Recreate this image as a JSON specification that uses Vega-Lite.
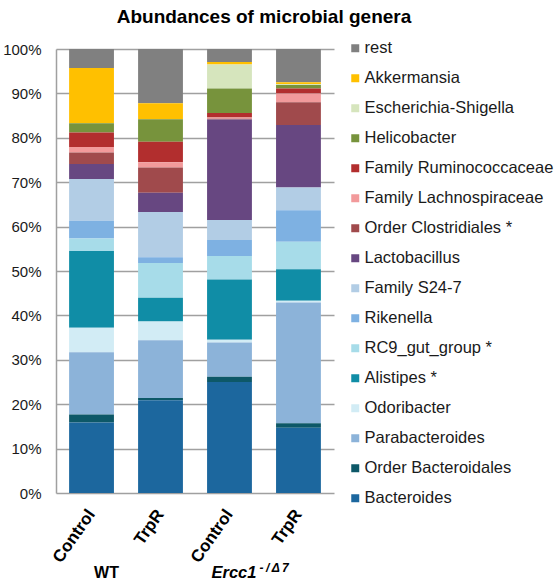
{
  "$schema": "https://vega.github.io/schema/vega-lite/v6.json",
  "autosize": "none",
  "padding": {"left": 56, "top": 49, "right": 222, "bottom": 89},
  "width": 278,
  "height": 444,
  "background": "white",
  "config": {
    "font": "Liberation Sans",
    "view": {"stroke": null}
  },
  "title": {
    "text": "Abundances of microbial genera",
    "fontSize": 19,
    "fontWeight": "bold",
    "color": "#000000",
    "anchor": "middle",
    "frame": "group",
    "dx": 69,
    "offset": 13
  },
  "datasets": {
    "abund": [
      {"sample": "WT Control", "genus": "rest", "value": 4.3},
      {"sample": "WT Control", "genus": "Akkermansia", "value": 12.4},
      {"sample": "WT Control", "genus": "Escherichia-Shigella", "value": 0},
      {"sample": "WT Control", "genus": "Helicobacter", "value": 2.1},
      {"sample": "WT Control", "genus": "Family Ruminococcaceae", "value": 3.3},
      {"sample": "WT Control", "genus": "Family Lachnospiraceae", "value": 1.2},
      {"sample": "WT Control", "genus": "Order Clostridiales", "value": 2.6},
      {"sample": "WT Control", "genus": "Lactobacillus", "value": 3.4},
      {"sample": "WT Control", "genus": "Family S24-7", "value": 9.4},
      {"sample": "WT Control", "genus": "Rikenella", "value": 4.0},
      {"sample": "WT Control", "genus": "RC9_gut_group", "value": 2.8},
      {"sample": "WT Control", "genus": "Alistipes", "value": 17.3},
      {"sample": "WT Control", "genus": "Odoribacter", "value": 5.5},
      {"sample": "WT Control", "genus": "Parabacteroides", "value": 14.0},
      {"sample": "WT Control", "genus": "Order Bacteroidales", "value": 1.8},
      {"sample": "WT Control", "genus": "Bacteroides", "value": 15.9},

      {"sample": "WT TrpR", "genus": "rest", "value": 12.2},
      {"sample": "WT TrpR", "genus": "Akkermansia", "value": 3.6},
      {"sample": "WT TrpR", "genus": "Escherichia-Shigella", "value": 0},
      {"sample": "WT TrpR", "genus": "Helicobacter", "value": 5.1},
      {"sample": "WT TrpR", "genus": "Family Ruminococcaceae", "value": 4.6},
      {"sample": "WT TrpR", "genus": "Family Lachnospiraceae", "value": 1.2},
      {"sample": "WT TrpR", "genus": "Order Clostridiales", "value": 5.7},
      {"sample": "WT TrpR", "genus": "Lactobacillus", "value": 4.3},
      {"sample": "WT TrpR", "genus": "Family S24-7", "value": 10.2},
      {"sample": "WT TrpR", "genus": "Rikenella", "value": 1.3},
      {"sample": "WT TrpR", "genus": "RC9_gut_group", "value": 7.8},
      {"sample": "WT TrpR", "genus": "Alistipes", "value": 5.4},
      {"sample": "WT TrpR", "genus": "Odoribacter", "value": 4.2},
      {"sample": "WT TrpR", "genus": "Parabacteroides", "value": 13.0},
      {"sample": "WT TrpR", "genus": "Order Bacteroidales", "value": 0.5},
      {"sample": "WT TrpR", "genus": "Bacteroides", "value": 20.9},

      {"sample": "Ercc1 Control", "genus": "rest", "value": 2.9},
      {"sample": "Ercc1 Control", "genus": "Akkermansia", "value": 0.6},
      {"sample": "Ercc1 Control", "genus": "Escherichia-Shigella", "value": 5.4},
      {"sample": "Ercc1 Control", "genus": "Helicobacter", "value": 5.5},
      {"sample": "Ercc1 Control", "genus": "Family Ruminococcaceae", "value": 1.0},
      {"sample": "Ercc1 Control", "genus": "Family Lachnospiraceae", "value": 0.3},
      {"sample": "Ercc1 Control", "genus": "Order Clostridiales", "value": 0.2},
      {"sample": "Ercc1 Control", "genus": "Lactobacillus", "value": 22.6},
      {"sample": "Ercc1 Control", "genus": "Family S24-7", "value": 4.5},
      {"sample": "Ercc1 Control", "genus": "Rikenella", "value": 3.6},
      {"sample": "Ercc1 Control", "genus": "RC9_gut_group", "value": 5.3},
      {"sample": "Ercc1 Control", "genus": "Alistipes", "value": 13.6},
      {"sample": "Ercc1 Control", "genus": "Odoribacter", "value": 0.6},
      {"sample": "Ercc1 Control", "genus": "Parabacteroides", "value": 7.7},
      {"sample": "Ercc1 Control", "genus": "Order Bacteroidales", "value": 1.2},
      {"sample": "Ercc1 Control", "genus": "Bacteroides", "value": 25.0},

      {"sample": "Ercc1 TrpR", "genus": "rest", "value": 7.5},
      {"sample": "Ercc1 TrpR", "genus": "Akkermansia", "value": 0.4},
      {"sample": "Ercc1 TrpR", "genus": "Escherichia-Shigella", "value": 0.2},
      {"sample": "Ercc1 TrpR", "genus": "Helicobacter", "value": 0.8},
      {"sample": "Ercc1 TrpR", "genus": "Family Ruminococcaceae", "value": 1.1},
      {"sample": "Ercc1 TrpR", "genus": "Family Lachnospiraceae", "value": 2.0},
      {"sample": "Ercc1 TrpR", "genus": "Order Clostridiales", "value": 5.1},
      {"sample": "Ercc1 TrpR", "genus": "Lactobacillus", "value": 14.1},
      {"sample": "Ercc1 TrpR", "genus": "Family S24-7", "value": 5.1},
      {"sample": "Ercc1 TrpR", "genus": "Rikenella", "value": 7.1},
      {"sample": "Ercc1 TrpR", "genus": "RC9_gut_group", "value": 6.2},
      {"sample": "Ercc1 TrpR", "genus": "Alistipes", "value": 7.1},
      {"sample": "Ercc1 TrpR", "genus": "Odoribacter", "value": 0.4},
      {"sample": "Ercc1 TrpR", "genus": "Parabacteroides", "value": 27.2},
      {"sample": "Ercc1 TrpR", "genus": "Order Bacteroidales", "value": 1.0},
      {"sample": "Ercc1 TrpR", "genus": "Bacteroides", "value": 14.7}
    ]
  },
  "layer": [
    {
      "data": {"name": "abund"},
      "transform": [
        {"window": [{"op": "row_number", "as": "rank"}], "groupby": ["sample"]}
      ],
      "mark": {"type": "bar"},
      "encoding": {
        "x": {
          "field": "sample",
          "type": "nominal",
          "sort": null,
          "scale": {"domain": ["WT Control", "WT TrpR", "Ercc1 Control", "Ercc1 TrpR"], "paddingInner": 0.35, "paddingOuter": 0.19},
          "axis": {
            "title": null,
            "labelExpr": "split(datum.value, ' ')[1]",
            "labelAngle": -55,
            "labelFontSize": 17,
            "labelFontWeight": "bold",
            "labelColor": "#000000",
            "labelPadding": 18,
            "ticks": false,
            "domain": false
          }
        },
        "y": {
          "field": "value",
          "type": "quantitative",
          "stack": "zero",
          "scale": {"domain": [0, 100], "nice": false},
          "axis": {
            "title": null,
            "values": [0, 10, 20, 30, 40, 50, 60, 70, 80, 90, 100],
            "labelExpr": "datum.value + '%'",
            "labelFontSize": 15,
            "labelColor": "#1a1a1a",
            "labelPadding": 15,
            "ticks": false,
            "grid": true,
            "gridColor": "#a0a0a0",
            "gridWidth": 1.5,
            "domain": true,
            "domainColor": "#a0a0a0",
            "domainWidth": 1.5
          }
        },
        "order": {"field": "rank", "type": "quantitative", "sort": "descending"},
        "color": {
          "field": "genus",
          "type": "nominal",
          "sort": ["rest", "Akkermansia", "Escherichia-Shigella", "Helicobacter", "Family Ruminococcaceae", "Family Lachnospiraceae", "Order Clostridiales", "Lactobacillus", "Family S24-7", "Rikenella", "RC9_gut_group", "Alistipes", "Odoribacter", "Parabacteroides", "Order Bacteroidales", "Bacteroides"],
          "scale": {
            "domain": ["rest", "Akkermansia", "Escherichia-Shigella", "Helicobacter", "Family Ruminococcaceae", "Family Lachnospiraceae", "Order Clostridiales", "Lactobacillus", "Family S24-7", "Rikenella", "RC9_gut_group", "Alistipes", "Odoribacter", "Parabacteroides", "Order Bacteroidales", "Bacteroides"],
            "range": ["#808080", "#ffc000", "#d6e5bd", "#77933c", "#b22e2e", "#f29a9b", "#a04a4c", "#674781", "#b2cde5", "#7eb1e2", "#a7dce9", "#108da6", "#d2ecf5", "#8cb3d9", "#0d5868", "#1c679e"]
          },
          "legend": {
            "title": null,
            "orient": "none",
            "legendX": 291,
            "legendY": -9,
            "symbolType": "square",
            "symbolSize": 64,
            "symbolStrokeWidth": 0,
            "labelFontSize": 16.5,
            "labelColor": "#1a1a1a",
            "labelOffset": 1,
            "labelLimit": 300,
            "rowPadding": 13,
            "labelExpr": "(datum.value == 'Order Clostridiales' || datum.value == 'RC9_gut_group' || datum.value == 'Alistipes') ? datum.value + ' *' : datum.value"
          }
        }
      }
    },
    {
      "data": {"values": [{"sample": "WT Control", "group": "WT"}]},
      "mark": {"type": "text", "fontSize": 16, "fontWeight": "bold", "color": "#000000", "align": "center", "baseline": "middle", "dx": 15},
      "encoding": {
        "x": {"field": "sample", "type": "nominal", "sort": null, "scale": {"domain": ["WT Control", "WT TrpR", "Ercc1 Control", "Ercc1 TrpR"]}},
        "y": {"datum": -18.0, "type": "quantitative", "scale": {"domain": [0, 100], "nice": false}},
        "text": {"field": "group"}
      }
    },
    {
      "data": {"values": [{"sample": "Ercc1 Control", "group": "Ercc1"}]},
      "mark": {"type": "text", "fontSize": 16.5, "fontWeight": "bold", "fontStyle": "italic", "color": "#000000", "align": "left", "baseline": "middle", "dx": -18},
      "encoding": {
        "x": {"field": "sample", "type": "nominal", "sort": null, "scale": {"domain": ["WT Control", "WT TrpR", "Ercc1 Control", "Ercc1 TrpR"]}},
        "y": {"datum": -18.0, "type": "quantitative", "scale": {"domain": [0, 100], "nice": false}},
        "text": {"field": "group"}
      }
    },
    {
      "data": {"values": [{"sample": "Ercc1 Control", "group": "-\u2009/\u2009Δ\u20097"}]},
      "mark": {"type": "text", "fontSize": 12, "fontWeight": "bold", "fontStyle": "italic", "color": "#000000", "align": "left", "baseline": "middle", "dx": 30, "dy": -5},
      "encoding": {
        "x": {"field": "sample", "type": "nominal", "sort": null, "scale": {"domain": ["WT Control", "WT TrpR", "Ercc1 Control", "Ercc1 TrpR"]}},
        "y": {"datum": -18.0, "type": "quantitative", "scale": {"domain": [0, 100], "nice": false}},
        "text": {"field": "group"}
      }
    }
  ]
}
